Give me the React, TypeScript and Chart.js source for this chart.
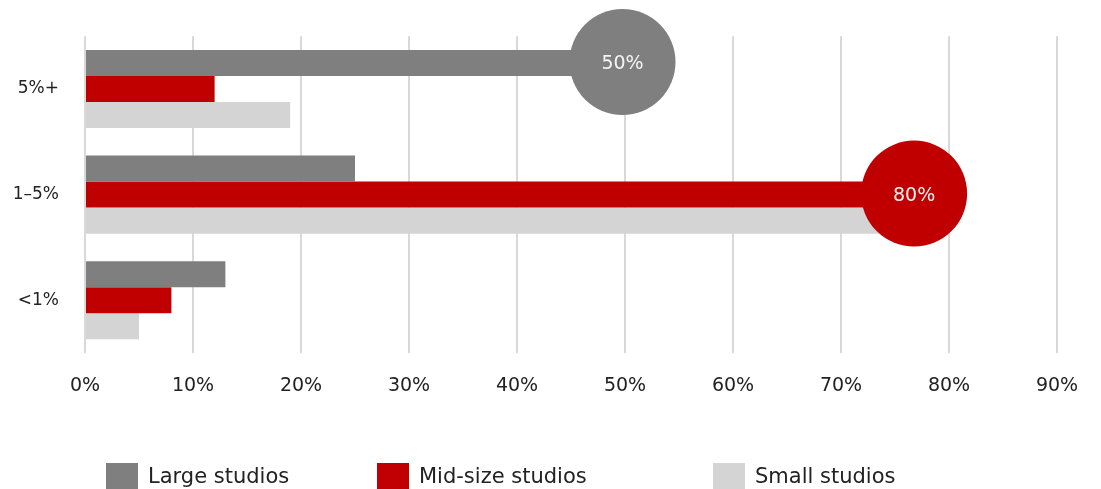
import React, { useEffect, useRef } from "react";
import { Chart, registerables } from "chart.js";

Chart.register(...registerables);

const categories = ["5%+", "1–5%", "<1%"];
const largeStudios = [50, 25, 13];
const midStudios = [12, 77, 8];
const smallStudios = [19, 75, 5];
const xTicks = [0, 10, 20, 30, 40, 50, 60, 70, 80, 90];
const seriesNames = ["Large studios", "Mid-size studios", "Small studios"];
const seriesColors = ["#7f7f7f", "#c00000", "#d4d4d4"];
// highlighted bars: [datasetIndex, categoryIndex, label]
const highlights: [number, number, string][] = [
  [0, 0, "50%"],
  [1, 1, "80%"],
];

const FONT = "'DejaVu Sans', sans-serif";

const bubblePlugin = {
  id: "bubbles",
  afterDatasetsDraw(chart: any) {
    const ctx = chart.ctx;
    ctx.save();
    highlights.forEach(([ds, idx, label]) => {
      const el = chart.getDatasetMeta(ds).data[idx];
      if (!el) return;
      const cx = el.x - 2.5;
      ctx.beginPath();
      ctx.arc(cx, el.y - 1, 53, 0, Math.PI * 2);
      ctx.fillStyle = seriesColors[ds];
      ctx.fill();
      ctx.fillStyle = "#f4f4f4";
      ctx.font = `19px ${FONT}`;
      ctx.textAlign = "center";
      ctx.textBaseline = "middle";
      ctx.fillText(label, cx, el.y + 1);
    });
    ctx.restore();
  },
};

export default function App() {
  const ref = useRef<HTMLCanvasElement>(null);
  useEffect(() => {
    document.body.style.margin = "0";
    const chart = new Chart(ref.current!, {
      type: "bar",
      data: {
        labels: categories,
        datasets: [largeStudios, midStudios, smallStudios].map((d, i) => ({
          label: seriesNames[i],
          data: d,
          backgroundColor: seriesColors[i],
          categoryPercentage: 0.74,
          barPercentage: 1,
        })),
      },
      options: {
        indexAxis: "y",
        animation: false,
        responsive: false,
        layout: { padding: { top: 35, right: 44, left: 0, bottom: 0 } },
        plugins: { legend: { display: false }, tooltip: { enabled: false } },
        scales: {
          x: {
            min: 0,
            max: 90,
            afterBuildTicks(scale: any) {
              scale.ticks = xTicks.map((v) => ({ value: v }));
            },
            afterFit(scale: any) {
              scale.height = 136;
            },
            ticks: {
              callback: (v: any) => v + "%",
              color: "#222",
              font: { family: FONT, size: 19 },
              padding: 22,
              maxRotation: 0,
            },
            grid: { color: "#d9d9d9", lineWidth: 2, drawTicks: false },
            border: { display: false },
          },
          y: {
            afterFit(scale: any) {
              scale.width = 85;
            },
            ticks: {
              color: "#222",
              font: { family: FONT, size: 17 },
              padding: 26,
            },
            grid: { display: false, drawTicks: false },
            border: { display: false },
          },
        },
      },
      plugins: [bubblePlugin],
    });
    return () => chart.destroy();
  }, []);

  const legendLeft = [106, 377, 713];
  return (
    <div style={{ position: "relative", width: 1101, height: 489, fontFamily: FONT }}>
      <canvas ref={ref} width={1101} height={489} style={{ display: "block" }} />
      {seriesNames.map((n, i) => (
        <div
          key={n}
          style={{
            position: "absolute",
            left: legendLeft[i],
            top: 463,
            display: "flex",
            alignItems: "center",
            height: 26,
            whiteSpace: "nowrap",
          }}
        >
          <div style={{ width: 32, height: 26, background: seriesColors[i], marginRight: 10 }} />
          <span style={{ fontSize: 21, color: "#222", lineHeight: "26px" }}>{n}</span>
        </div>
      ))}
    </div>
  );
}
